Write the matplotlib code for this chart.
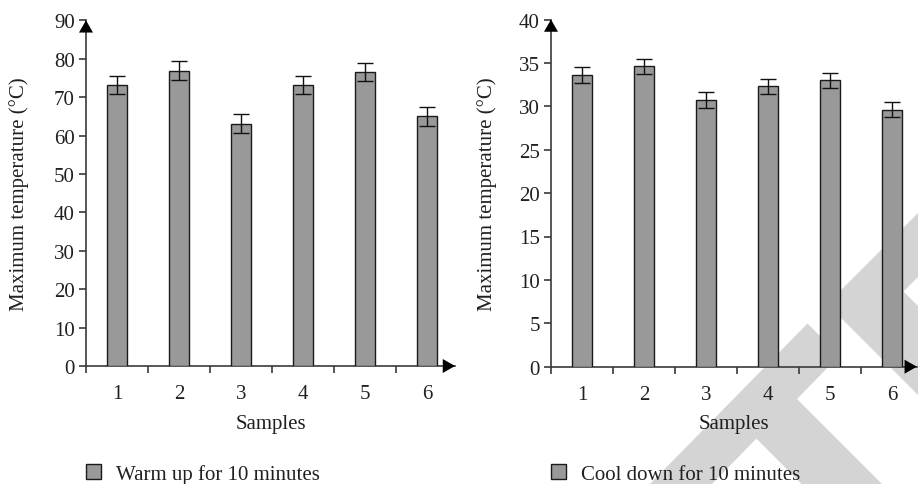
import matplotlib
matplotlib.use("Agg")
import matplotlib.pyplot as plt
from matplotlib.patches import Polygon
from matplotlib.transforms import IdentityTransform
import numpy as np

plt.rcParams['font.family'] = ['Liberation Serif', 'DejaVu Serif']

samples = ["1", "2", "3", "4", "5", "6"]
warm_values = [73.1, 76.9, 63.1, 73.1, 76.5, 65.0]
warm_errors = [2.4, 2.4, 2.4, 2.4, 2.4, 2.4]
cool_values = [33.6, 34.6, 30.7, 32.3, 33.0, 29.6]
cool_errors = [0.9, 0.9, 0.9, 0.9, 0.85, 0.85]
warm_label = "Warm up for 10 minutes"
cool_label = "Cool down for 10 minutes"
y_label = "Maximum temperature (°C)"
x_label = "Samples"

W, H = 918, 485
fig = plt.figure(figsize=(W / 100, H / 100), dpi=100)
fig.patch.set_facecolor("white")

TXT = "#231f20"
AX = "#3a3a3a"
BAR = "#999999"
FS = 15

# watermark (light grey logo in the background)
wm = "#d4d4d4"
def P(pts):
    return [(x, H - y) for x, y in pts]
piece1 = P([(650, 485), (807.5, 324.5), (839.5, 356.5), (797, 400), (882, 485),
            (801.7, 485), (756.4, 439.6), (712, 485)])
piece2 = P([(827, 305), (1000, 132), (1000, 196), (903.5, 292.5), (1000, 389), (1000, 478)])
for pts in (piece1, piece2):
    fig.add_artist(Polygon(pts, closed=True, facecolor=wm, edgecolor="none",
                           transform=IdentityTransform(), zorder=-5))


def make_axes(left_px, zero_px, top_px, right_px):
    ax = fig.add_axes([left_px / W, (H - zero_px) / H, (right_px - left_px) / W,
                       (zero_px - top_px) / H])
    ax.set_facecolor("none")
    return ax


ARROW = dict(arrowstyle="-|>,head_length=0.42,head_width=0.24", color="black", lw=0,
             mutation_scale=21, shrinkA=0, shrinkB=0)


def draw(ax, values, errors, ymax, ystep, xmax, label, leg_x, ylab_off):
    x = np.arange(1, len(samples) + 1)
    bars = ax.bar(x, values, width=0.32, color=BAR, edgecolor="#1a1a1a", linewidth=1.0,
                  yerr=errors, capsize=5.5, error_kw=dict(ecolor="#111111", elinewidth=1.0,
                                                          capthick=1.0), label=label, zorder=3)
    ax.set_xlim(0.5, xmax)
    ax.set_ylim(0, ymax)
    for s in ("top", "right"):
        ax.spines[s].set_visible(False)
    for s in ("left", "bottom"):
        ax.spines[s].set_color(AX)
        ax.spines[s].set_linewidth(1.2)
    ax.set_yticks(np.arange(0, ymax + 0.1, ystep))
    ax.set_xticks(x)
    ax.set_xticklabels(samples)
    ax.set_xticks(np.arange(0.5, len(samples)), minor=True)
    ax.tick_params(axis="x", which="major", length=0, pad=13, labelsize=FS, colors=TXT)
    ax.tick_params(axis="x", which="minor", length=5, width=1.2, color=AX, direction="out")
    ax.tick_params(axis="y", length=5, width=1.2, color=AX, pad=3, labelsize=FS, labelcolor=TXT)
    # arrow heads
    ax.annotate("", xy=(0.5, ymax), xytext=(0.5, ymax * 0.95), arrowprops=ARROW,
                annotation_clip=False)
    ax.annotate("", xy=(xmax, 0), xytext=(xmax - 0.2, 0), arrowprops=ARROW,
                annotation_clip=False)
    ax.set_ylabel(y_label, fontsize=FS, color=TXT)
    ax.set_xlabel(x_label, fontsize=FS, color=TXT)
    bb = ax.get_position()
    wpx = bb.width * W
    hpx = bb.height * H
    ax.yaxis.set_label_coords(-ylab_off / wpx, 0.5)
    ax.yaxis.label.set_va("center")
    ax.xaxis.set_label_coords(0.5, -(425 - (H - bb.y0 * H)) / hpx)
    ax.xaxis.label.set_va("center")
    leg = ax.legend(handles=[bars], loc="center left", bbox_to_anchor=(leg_x / W, 10 / H),
                    bbox_transform=fig.transFigure, frameon=False, fontsize=FS,
                    handlelength=0.72, handleheight=0.72, handletextpad=0.72,
                    borderaxespad=0, borderpad=0)
    for t in leg.get_texts():
        t.set_color(TXT)
    return ax


ax1 = make_axes(86, 367, 21.3, 455)
draw(ax1, warm_values, warm_errors, 90, 10, 6.45, warm_label, 86, 67)

ax2 = make_axes(551, 367.7, 20.5, 551 + 5.9 * 62)
draw(ax2, cool_values, cool_errors, 40, 5, 6.4, cool_label, 551, 64)

fig.savefig("out.png", dpi=100)
